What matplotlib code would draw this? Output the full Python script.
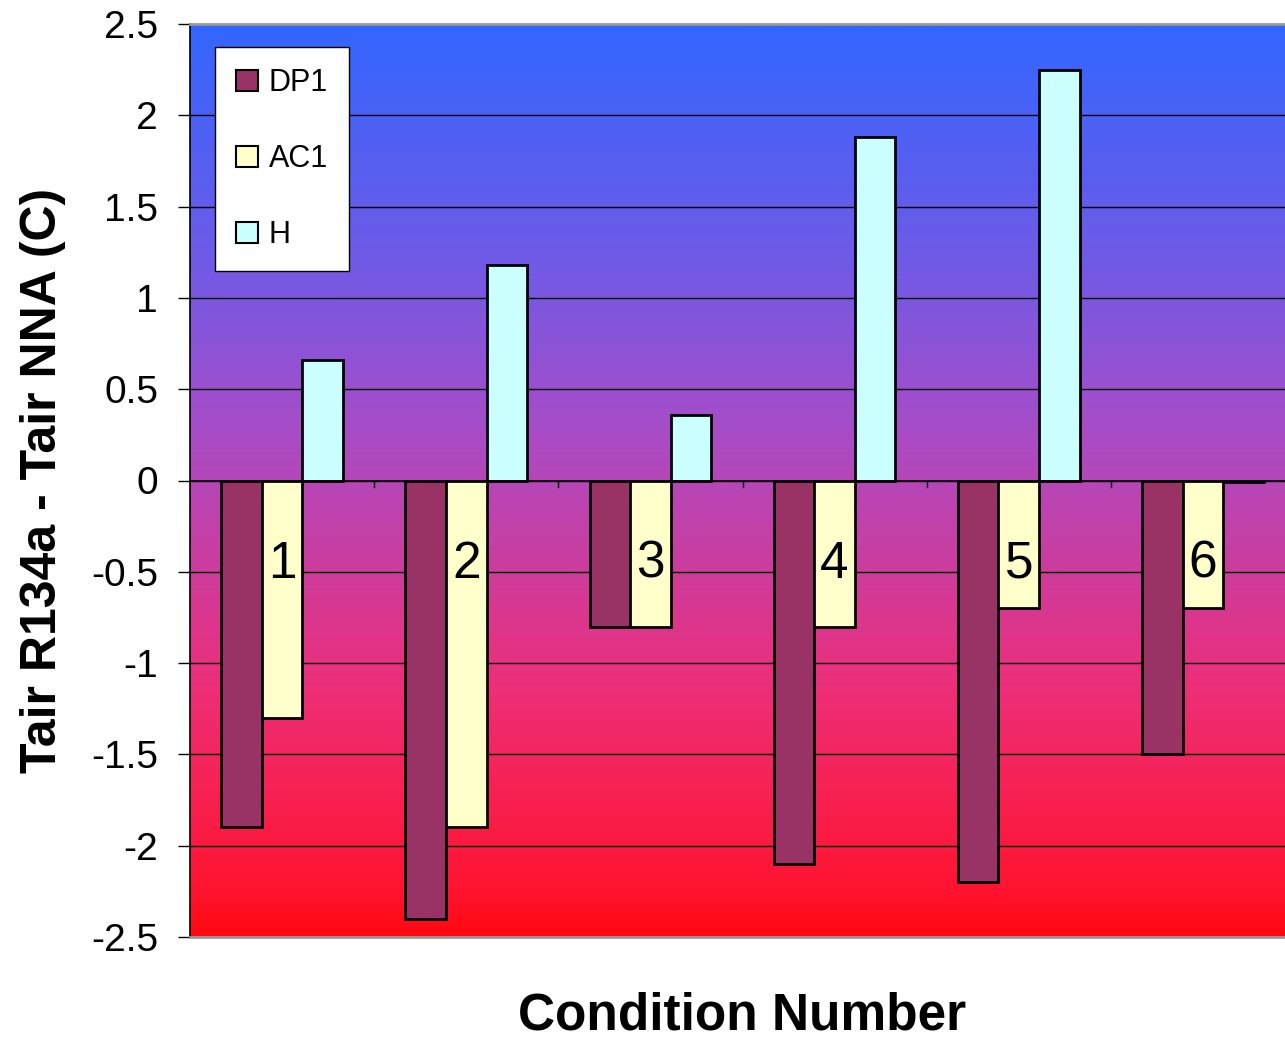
import numpy as np
import matplotlib
matplotlib.use("Agg")
import matplotlib.pyplot as plt
from matplotlib.colors import LinearSegmentedColormap

plt.rcParams['font.family'] = ['Liberation Sans', 'DejaVu Sans']

conditions = ['1', '2', '3', '4', '5', '6']
dp1 = [-1.9, -2.4, -0.8, -2.1, -2.2, -1.5]
ac1 = [-1.3, -1.9, -0.8, -0.8, -0.7, -0.7]
h = [0.66, 1.18, 0.36, 1.88, 2.25, -0.01]
series = [('DP1', dp1, '#993366'), ('AC1', ac1, '#FFFFCC'), ('H', h, '#CCFFFF')]

fig = plt.figure(figsize=(12.85, 10.39), dpi=100)
# right edge of the plot area runs past the image, as in the reference
ax = fig.add_axes([190 / 1285, 1 - 937 / 1039, 1105 / 1285, 913 / 1039])

ymin, ymax = -2.5, 2.5
xmin, xmax = -0.5, len(conditions) - 0.5

# gradient background, blue at top to red at bottom
stops = [(0.0, (51, 102, 255)), (0.26, (112, 90, 230)), (0.44, (166, 77, 200)),
         (0.73, (238, 46, 120)), (0.95, (255, 20, 48)), (1.0, (255, 8, 16))]
cmap = LinearSegmentedColormap.from_list(
    'bg', [(p, tuple(c / 255 for c in rgb)) for p, rgb in stops])
grad = np.linspace(0, 1, 512).reshape(-1, 1)
ax.imshow(grad, cmap=cmap, aspect='auto', extent=[xmin, xmax, ymin, ymax],
          origin='upper', zorder=0)

ax.set_xlim(xmin, xmax)
ax.set_ylim(ymin, ymax)

for yv in np.arange(-2.0, 2.51, 0.5):
    ax.axhline(yv, color='black', lw=1, zorder=1)
ax.axhline(0, color='black', lw=1.2, zorder=3)

width = 0.22
x = np.arange(len(conditions))
for i, (name, vals, col) in enumerate(series):
    ax.bar(x + (i - 1) * width, vals, width, color=col, edgecolor='black',
           linewidth=2, label=name, zorder=2)

for xi, lab in zip(x, conditions):
    ax.text(xi, -0.46, lab, ha='center', va='center', fontsize=37, zorder=4)

# tick marks on the zero line between groups
for b in np.arange(0.5, len(conditions) - 0.5, 1):
    ax.plot([b, b], [0, -0.035], color='black', lw=1, zorder=3)

ax.set_xticks([])
ax.set_yticks(np.arange(-2.5, 2.51, 0.5))
ax.set_yticklabels(['-2.5', '-2', '-1.5', '-1', '-0.5', '0', '0.5', '1', '1.5', '2', '2.5'])
ax.tick_params(axis='y', labelsize=28, length=9, width=1, direction='out', pad=14)

for side in ['top', 'bottom', 'right']:
    ax.spines[side].set_color('#999999')
    ax.spines[side].set_linewidth(2)
ax.spines['left'].set_color('black')
ax.spines['left'].set_linewidth(1.2)

ax.set_ylabel('Tair R134a - Tair NNA (C)', fontsize=36, fontweight='bold')
ax.yaxis.set_label_coords((66 - 190) / 1105, 0.5)
fig.text(742 / 1285, 1 - 1016 / 1039, 'Condition Number', ha='center', va='center',
         fontsize=37, fontweight='bold')

leg = ax.legend(loc='upper left', bbox_to_anchor=(25 / 1105, 1 - 23 / 913),
                fontsize=22, frameon=True, fancybox=False, edgecolor='black',
                framealpha=1, handlelength=0.7, handleheight=0.7, handletextpad=0.35,
                labelspacing=1.5, borderpad=0.7, borderaxespad=0)
leg.get_frame().set_linewidth(1)
for p in leg.get_patches():
    p.set_linewidth(1.5)

fig.savefig('out.png', dpi=100)
